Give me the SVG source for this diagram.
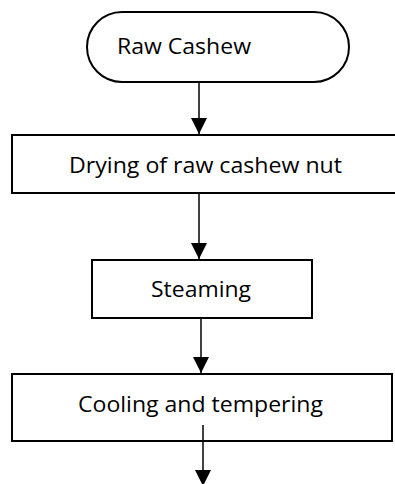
<svg xmlns="http://www.w3.org/2000/svg" width="395" height="484" viewBox="0 0 395 484">
<defs>
<style>
.box{fill:#fff;stroke:#000;stroke-width:2}
.lbl{font-family:"Open Sans","Liberation Sans",sans-serif;font-size:21px;fill:#000}
.edge{stroke:#000;stroke-width:1.5;fill:none}
</style>
<marker id="ah" markerUnits="userSpaceOnUse" markerWidth="16" markerHeight="16" refX="16" refY="8" orient="auto">
<path d="M0,0 L16,8 L0,16 Z" fill="#000"/>
</marker>
</defs>
<rect width="395" height="484" fill="#fff"/>
<g id="n1">
<rect class="box" x="87" y="12" width="262" height="70" rx="35" ry="35"/>
<text class="lbl" x="117" y="54" textLength="134" lengthAdjust="spacingAndGlyphs">Raw Cashew</text>
</g>
<g id="n2">
<rect class="box" x="12" y="135" width="400" height="58"/>
<text class="lbl" x="69" y="173" textLength="273" lengthAdjust="spacingAndGlyphs">Drying of raw cashew nut</text>
</g>
<g id="n3">
<rect class="box" x="92" y="260" width="220" height="58"/>
<text class="lbl" x="151" y="297" textLength="100" lengthAdjust="spacingAndGlyphs">Steaming</text>
</g>
<g id="n4">
<rect class="box" x="12" y="374" width="380" height="67"/>
<text class="lbl" x="78" y="412" textLength="245" lengthAdjust="spacingAndGlyphs">Cooling and tempering</text>
</g>
<g id="edges">
<line class="edge" x1="199" y1="82" x2="199" y2="134" marker-end="url(#ah)"/>
<line class="edge" x1="199" y1="193" x2="199" y2="259" marker-end="url(#ah)"/>
<line class="edge" x1="201" y1="318" x2="201" y2="373" marker-end="url(#ah)"/>
<line class="edge" x1="203" y1="425" x2="203" y2="486" marker-end="url(#ah)"/>
</g>
</svg>
